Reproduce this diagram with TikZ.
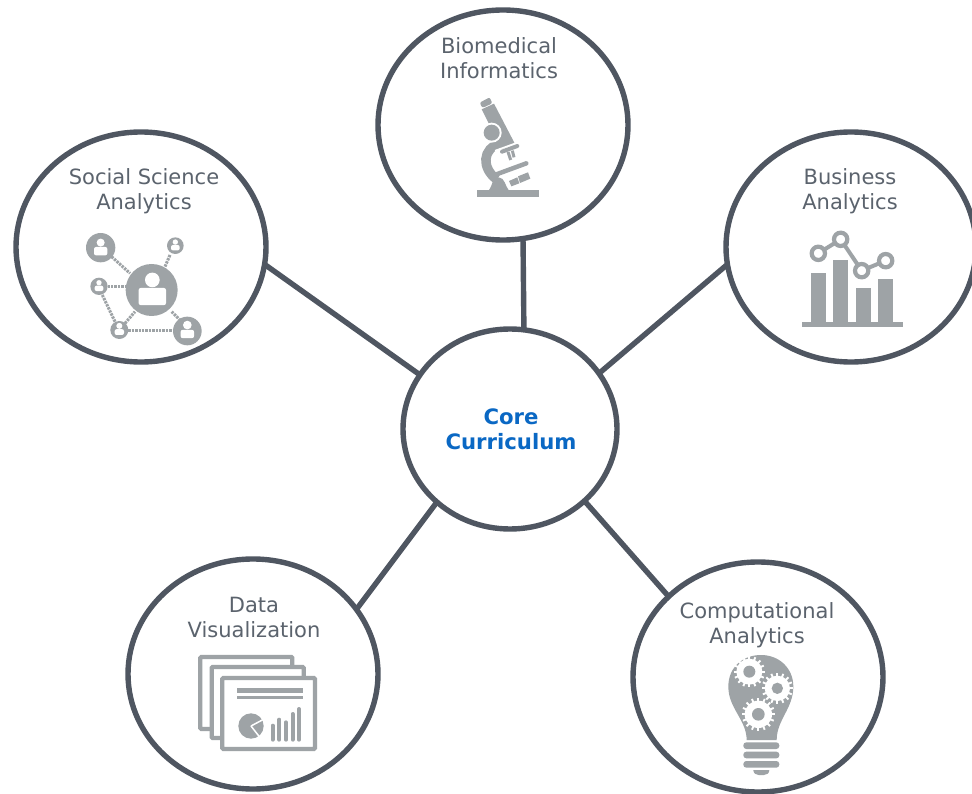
\documentclass[tikz,border=0pt]{standalone}
\usepackage{fontspec}
\setmainfont{DejaVu Sans}
\usetikzlibrary{shapes.geometric}
\definecolor{ringc}{HTML}{4F5661}
\definecolor{textc}{HTML}{5B636D}
\definecolor{corec}{HTML}{0A68C4}
\definecolor{iconc}{HTML}{9EA3A6}
\tikzset{
  hub/.style={draw=ringc,line width=5.4pt,ellipse,fill=white,inner sep=0pt,outer sep=0pt,minimum width=250pt,minimum height=230pt},
  corehub/.style={hub,minimum width=214pt,minimum height=200pt},
  spoke/.style={draw=ringc,line width=5.4pt},
  lab/.style={align=center,text=textc,inner sep=0pt,font=\fontsize{21}{25}\selectfont},
  corelab/.style={align=center,text=corec,inner sep=0pt,font=\fontsize{21.2}{25}\selectfont\bfseries},
  crop/.style 2 args={xshift=#1pt,yshift=-#2pt,x=0.33333pt,y=-0.33333pt},
  ic/.style={fill=iconc,draw=none},
  wh/.style={fill=white,draw=none},
}
\newcommand{\personicon}[4]{% x y head-radius body-half-width
  \fill[wh] (#1,#2-#3*0.6) circle[radius=#3];
  \fill[wh,rounded corners=2pt] (#1-#4,#2+#3*0.5+#4*1.25) -- (#1-#4,#2+#3*0.5) -- (#1+#4,#2+#3*0.5) -- (#1+#4,#2+#3*0.5+#4*1.25) -- cycle;
}
\newcommand{\gearicon}[5]{% x y outer body hub
  \foreach \a in {0,22.5,...,337.5}{
    \draw[white,line width=1.9pt] (#1,#2) -- ++(\a:#3);
  }
  \fill[wh] (#1,#2) circle[radius=#4];
  \fill[ic] (#1,#2) circle[radius=#5];
}
\begin{document}
\begin{tikzpicture}[x=1pt,y=-1pt]
\useasboundingbox (0,0) rectangle (972,794);
% hubs
\node[hub] (bio) at (503,125) {};
\node[hub] (soc) at (141,247) {};
\node[hub] (bus) at (851,247) {};
\node[hub] (dat) at (253,674) {};
\node[hub] (com) at (758,677) {};
\node[corehub] (core) at (510,429) {};
% spokes
\draw[spoke] (bio.280) -- (core.82);
\draw[spoke] (soc.352) -- (core.149);
\draw[spoke] (bus.188.5) -- (core.32);
\draw[spoke] (dat.32) -- (core.225);
\draw[spoke] (com.138) -- (core.316);
% labels
\node[lab] (biot) at (499,58.5) {Biomedical\\Informatics};
\node[lab] (soct) at (144,191) {Social Science\\Analytics};
\node[lab] (bust) at (850,191) {Business\\Analytics};
\node[lab] (datt) at (254,617) {Data\\Visualization};
\node[lab] (comt) at (757,625) {Computational\\Analytics};
\node[corelab] (coret) at (511,429.5) {Core\\Curriculum};
% microscope
\begin{scope}[crop={440}{80}]
  \fill[ic] (110,330) rectangle (297,351);
  \fill[ic] (146,332) .. controls (158,318) and (155,293) .. (176,292) .. controls (195,293) and (195,318) .. (207,332) -- cycle;
  \fill[ic,rounded corners=2pt] (119,68) -- (149,52) -- (157,70) -- (127,84) -- cycle;
  \fill[ic] (125,88) -- (162,71) -- (224,190) -- (185,207) -- cycle;
  \draw[iconc,line width=9.5pt] (182,190) .. controls (125,205) and (125,265) .. (170,298);
  \fill[white] (155,158) circle[radius=30];
  \fill[ic] (155,158) circle[radius=24];
  \draw[white,line width=1.5pt] (165,212) -- (240,185);
  \draw[iconc,line width=4pt,line cap=round] (186,215) -- (232,198);
  \draw[iconc,line width=3pt] (204,216) -- (212,240);
  \draw[iconc,line width=3pt] (217,212) -- (222,232);
  \draw[iconc,line width=4.5pt,line cap=round] (172,282) -- (259,250);
  \fill[ic] (207,303) -- (232,292) -- (238,310) -- (214,319) -- cycle;
  \fill[ic] (234,289) -- (264,277) -- (271,296) -- (240,309) -- cycle;
\end{scope}
% social network
\begin{scope}[crop={70}{225}]
  \foreach \p/\q in {{(125,95)/(180,145)},{(300,90)/(285,125)},{(113,184)/(170,184)},{(97,210)/(135,290)},{(165,295)/(195,260)},{(175,317)/(310,317)},{(305,260)/(330,285)}}{
    \draw[iconc,line width=3pt,dash pattern=on 2.4pt off 1pt] \p -- \q;
  }
  \fill[ic] (245,195) circle[radius=78];
  \personicon{247}{178}{22}{41}
  \fill[ic] (92,68) circle[radius=44];
  \personicon{92}{60}{12}{20}
  \fill[ic] (316,62) circle[radius=25];
  \personicon{316}{56}{8}{13}
  \fill[ic] (87,184) circle[radius=26];
  \personicon{87}{178}{8}{13}
  \fill[ic] (148,315) circle[radius=27];
  \personicon{148}{308}{9}{14}
  \fill[ic] (352,318) circle[radius=43];
  \personicon{352}{308}{13}{20}
\end{scope}
% business chart
\begin{scope}[crop={790}{220}]
  \fill[ic] (62,160) rectangle (107,305);
  \fill[ic] (130,120) rectangle (175,305);
  \fill[ic] (197,205) rectangle (242,305);
  \fill[ic] (265,178) rectangle (310,305);
  \fill[ic] (37,307) rectangle (338,320);
  \draw[iconc,line width=4pt] (85,100) -- (152,58) -- (215,152) -- (287,122);
  \foreach \c in {(85,100),(152,58),(215,152),(287,122)}{
    \draw[iconc,line width=4.2pt,fill=white] \c circle[radius=20];
  }
\end{scope}
% slides
\begin{scope}[crop={175}{645}]
  \foreach \a/\b/\c/\d in {76/36/352/252,110/66/386/279,142/99/420/312}{
    \draw[iconc,line width=4.2pt,fill=white,rounded corners=1pt] (\a,\b) rectangle (\c,\d);
  }
  \fill[ic] (187,128) rectangle (383,145);
  \fill[ic] (187,152) rectangle (383,161);
  \fill[ic] (228,243) circle[radius=38];
  \draw[white,line width=1.5pt] (228,243) -- ++(52:50);
  \draw[white,line width=1.5pt] (228,243) -- ++(-28:50);
  \foreach \x/\t in {293/242,313/224,333/232,353/207,372/192}{
    \draw[iconc,line width=4pt,line cap=round] (\x,\t) -- (\x,284);
  }
\end{scope}
% bulb
\begin{scope}[crop={700}{645}]
  \fill[ic] (140,285) .. controls (140,225) and (85,190) .. (85,125) .. controls (85,65) and (130,30) .. (183,30) .. controls (238,30) and (280,70) .. (280,125) .. controls (280,190) and (230,225) .. (230,285) -- cycle;
  \gearicon{148}{80}{47}{39}{18}
  \gearicon{232}{130}{47}{38}{17}
  \gearicon{175}{208}{50}{41}{19}
  \fill[ic,rounded corners=3pt] (130,292) rectangle (238,312);
  \fill[ic,rounded corners=3pt] (130,320) rectangle (238,340);
  \fill[ic,rounded corners=3pt] (130,348) rectangle (238,368);
  \fill[ic] (160,375) -- (208,375) .. controls (208,385) and (200,390) .. (192,390) -- (176,390) .. controls (168,390) and (160,385) .. (160,375) -- cycle;
\end{scope}
\end{tikzpicture}
\end{document}
